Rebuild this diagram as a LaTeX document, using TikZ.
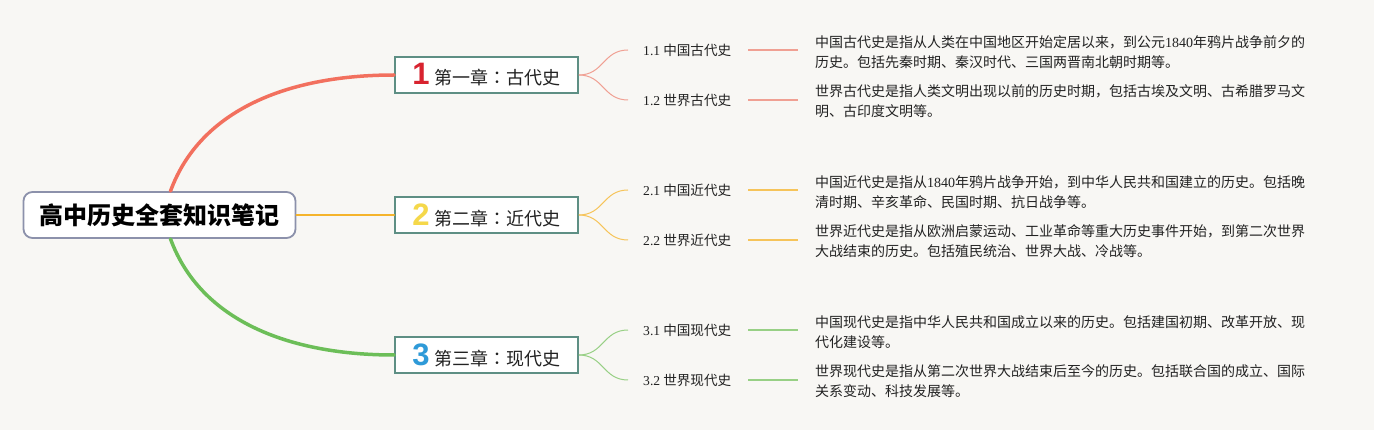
\documentclass[tikz,border=0pt]{standalone}
\usepackage{fontspec}
\setmainfont{Liberation Serif}
\newfontfamily\cjk{Noto Sans CJK SC}
\newfontfamily\cjkjp{Noto Sans CJK JP}
\newfontfamily\numfont{Liberation Sans}
\newcommand{\latn}[1]{{\rmfamily #1}}
\newcommand{\jpcolon}{{\cjkjp ：}}
\usetikzlibrary{calc}
\definecolor{bgc}{HTML}{F8F7F4}
\definecolor{rootc}{HTML}{8C91AB}
\definecolor{chapc}{HTML}{5E8F84}
\definecolor{redm}{HTML}{F2705E}
\definecolor{redt}{HTML}{F0A093}
\definecolor{orgm}{HTML}{F5B42C}
\definecolor{orgt}{HTML}{F6C45A}
\definecolor{grnm}{HTML}{6CBE58}
\definecolor{grnt}{HTML}{98D085}
\definecolor{numr}{HTML}{D8232F}
\definecolor{numy}{HTML}{F5D84A}
\definecolor{numb}{HTML}{2E9AD8}
\definecolor{txt}{HTML}{222222}
\tikzset{
  root/.style={draw=rootc, line width=1.8pt, fill=white, rounded corners=9pt,
    minimum width=272pt, minimum height=46pt, inner sep=0pt,
    font=\cjk\bfseries\fontsize{24}{24}\selectfont, text=black},
  chap/.style={draw=chapc, line width=1.6pt, fill=white,
    minimum width=183pt, minimum height=36pt, inner sep=0pt,
    font=\cjk\fontsize{18}{18}\selectfont, text=txt},
  sub/.style={anchor=west, inner xsep=15pt, inner ysep=2pt,
    font=\cjk\fontsize{13.6}{16}\selectfont, text=txt},
  desc/.style={anchor=west, inner xsep=15pt, inner ysep=2pt, align=left,
    font=\cjk\fontsize{14}{20}\selectfont, text=txt},
  mainline/.style={line width=#1, line cap=round},
  thinln/.style={line width=1.3pt}
}
\newcommand{\chnum}[2]{{\numfont\bfseries\fontsize{31}{31}\selectfont\color{#1}#2}\hspace{5pt}}
\begin{document}
\begin{tikzpicture}[x=1pt,y=-1pt]
\fill[bgc] (0,0) rectangle (1374,430);
\useasboundingbox (0,0) rectangle (1374,430);

% root
\node[root] (root) at (159.5,215) {高中历史全套知识笔记};

% chapters
\node[chap] (c1) at (486.5,75) {\chnum{numr}{1}第一章\jpcolon 古代史};
\node[chap] (c2) at (486.5,215) {\chnum{numy}{2}第二章\jpcolon 近代史};
\node[chap] (c3) at (486.5,355) {\chnum{numb}{3}第三章\jpcolon 现代史};

% main connectors
\draw[redm, mainline=3.5pt] ([xshift=11pt]root.north) .. controls ($([xshift=11pt]root.north)+(30,-82)$) and ($(c1.west)+(-105,0)$) .. (c1.west);
\draw[orgm, mainline=2pt] (root.east) -- (c2.west);
\draw[grnm, mainline=3.5pt] ([xshift=11pt]root.south) .. controls ($([xshift=11pt]root.south)+(30,82)$) and ($(c3.west)+(-105,0)$) .. (c3.west);

% sub topics
\node[sub] (s11) at (628,50) {\latn{1.1} 中国古代史};
\node[sub] (s12) at (628,100) {\latn{1.2} 世界古代史};
\node[sub] (s21) at (628,190) {\latn{2.1} 中国近代史};
\node[sub] (s22) at (628,240) {\latn{2.2} 世界近代史};
\node[sub] (s31) at (628,330) {\latn{3.1} 中国现代史};
\node[sub] (s32) at (628,380) {\latn{3.2} 世界现代史};

% descriptions
\node[desc] (d11) at (800,52) {中国古代史是指从人类在中国地区开始定居以来，到公元\latn{1840}年鸦片战争前夕的\\历史。包括先秦时期、秦汉时代、三国两晋南北朝时期等。};
\node[desc] (d12) at (800,101.5) {世界古代史是指人类文明出现以前的历史时期，包括古埃及文明、古希腊罗马文\\明、古印度文明等。};
\node[desc] (d21) at (800,192) {中国近代史是指从\latn{1840}年鸦片战争开始，到中华人民共和国建立的历史。包括晚\\清时期、辛亥革命、民国时期、抗日战争等。};
\node[desc] (d22) at (800,241.5) {世界近代史是指从欧洲启蒙运动、工业革命等重大历史事件开始，到第二次世界\\大战结束的历史。包括殖民统治、世界大战、冷战等。};
\node[desc] (d31) at (800,332) {中国现代史是指中华人民共和国成立以来的历史。包括建国初期、改革开放、现\\代化建设等。};
\node[desc] (d32) at (800,381.5) {世界现代史是指从第二次世界大战结束后至今的历史。包括联合国的成立、国际\\关系变动、科技发展等。};

% branch connectors
\foreach \c/\a/\b/\col in {c1/s11/s12/redt, c2/s21/s22/orgt, c3/s31/s32/grnt}{
  \draw[\col, line width=1pt] (\c.east) .. controls ($(\c.east)+(25,0)$) and ($(\a.west)+(-25,0)$) .. (\a.west);
  \draw[\col, line width=1pt] (\c.east) .. controls ($(\c.east)+(25,0)$) and ($(\b.west)+(-25,0)$) .. (\b.west);
}
% stubs
\foreach \s/\d/\col in {s11/d11/redt, s12/d12/redt, s21/d21/orgt, s22/d22/orgt, s31/d31/grnt, s32/d32/grnt}{
  \draw[\col, thinln] ([xshift=2pt]\s.east) -- ([xshift=-2pt]\s.east -| \d.west);
}
\end{tikzpicture}
\end{document}
